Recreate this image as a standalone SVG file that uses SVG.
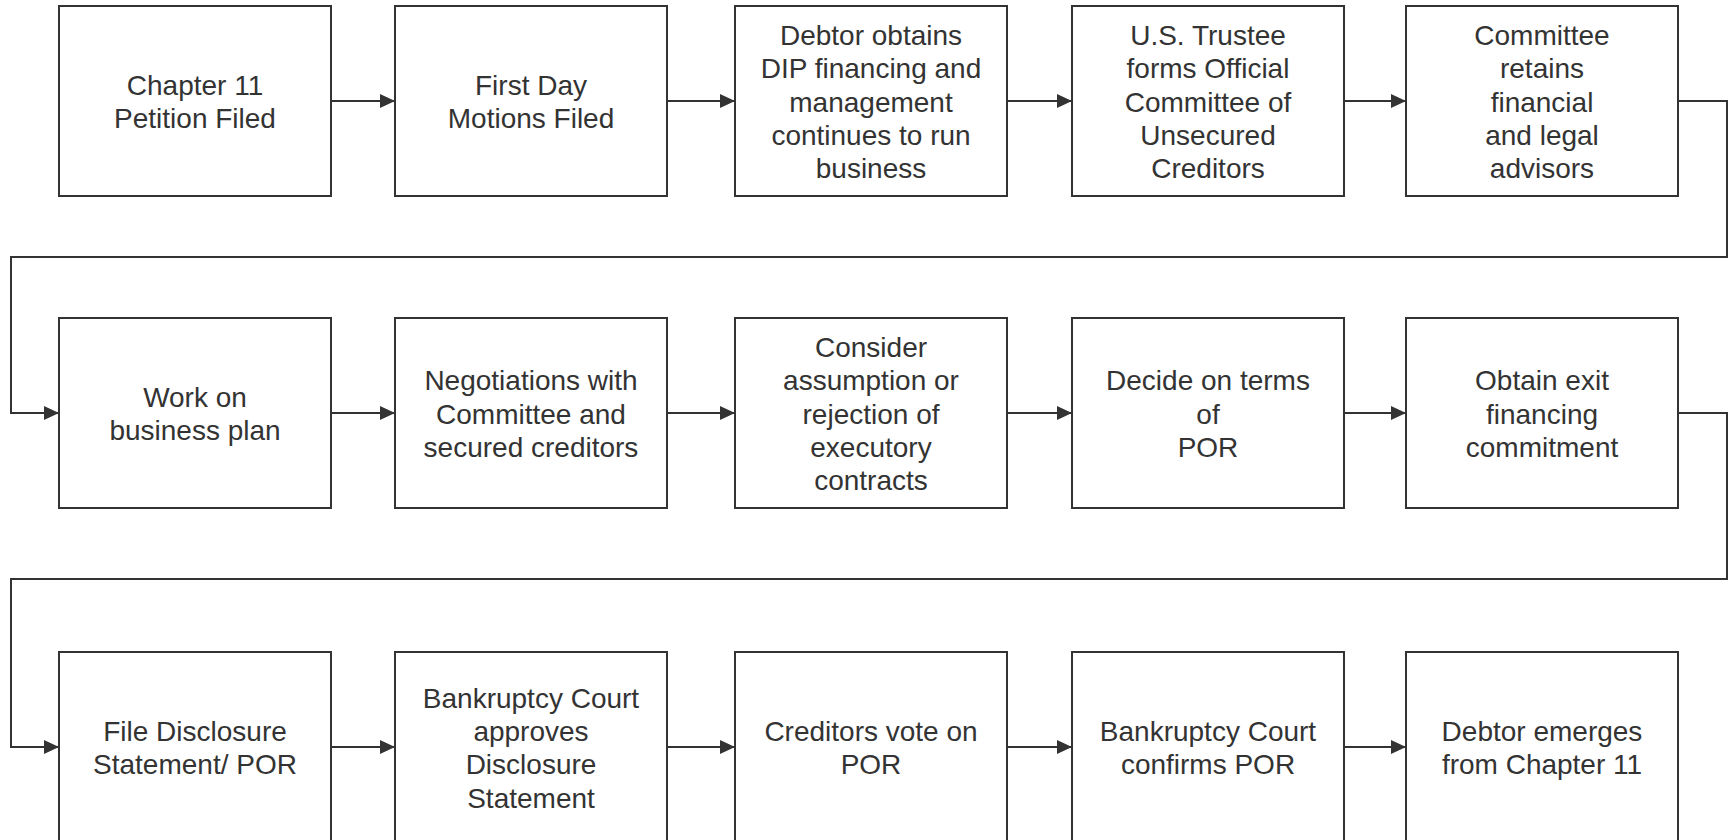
<svg xmlns="http://www.w3.org/2000/svg" width="1729" height="840" viewBox="0 0 1729 840">
<style>
.box{fill:#ffffff;stroke:#333333;stroke-width:2}
.lbl{font-family:"Liberation Sans",Arial,sans-serif;font-size:28px;fill:#333333;text-anchor:middle}
.con{fill:none;stroke:#333333;stroke-width:2}
</style>
<defs>
<marker id="arr" markerUnits="userSpaceOnUse" markerWidth="16" markerHeight="14" refX="15" refY="7" orient="auto">
<path d="M0,0 L15,7 L0,14 z" fill="#333333"/>
</marker>
</defs>
<rect x="0" y="0" width="1729" height="840" fill="#ffffff"/>
<g id="connectors">
<path class="con" d="M331,101 H395" marker-end="url(#arr)"/>
<path class="con" d="M667,101 H735" marker-end="url(#arr)"/>
<path class="con" d="M1007,101 H1072" marker-end="url(#arr)"/>
<path class="con" d="M1344,101 H1406" marker-end="url(#arr)"/>
<path class="con" d="M1679,101 H1727 V257 H11 V413 H59" marker-end="url(#arr)"/>
<path class="con" d="M331,413 H395" marker-end="url(#arr)"/>
<path class="con" d="M667,413 H735" marker-end="url(#arr)"/>
<path class="con" d="M1007,413 H1072" marker-end="url(#arr)"/>
<path class="con" d="M1344,413 H1406" marker-end="url(#arr)"/>
<path class="con" d="M1679,413 H1727 V579 H11 V747 H59" marker-end="url(#arr)"/>
<path class="con" d="M331,747 H395" marker-end="url(#arr)"/>
<path class="con" d="M667,747 H735" marker-end="url(#arr)"/>
<path class="con" d="M1007,747 H1072" marker-end="url(#arr)"/>
<path class="con" d="M1344,747 H1406" marker-end="url(#arr)"/>
</g>
<g id="n1"><rect class="box" x="59" y="6" width="272" height="190"/>
<text class="lbl"><tspan x="195" y="94.9">Chapter 11</tspan><tspan x="195" y="128.2">Petition Filed</tspan></text></g>
<g id="n2"><rect class="box" x="395" y="6" width="272" height="190"/>
<text class="lbl"><tspan x="531" y="94.9">First Day</tspan><tspan x="531" y="128.2">Motions Filed</tspan></text></g>
<g id="n3"><rect class="box" x="735" y="6" width="272" height="190"/>
<text class="lbl"><tspan x="871" y="44.9">Debtor obtains</tspan><tspan x="871" y="78.2">DIP financing and</tspan><tspan x="871" y="111.5">management</tspan><tspan x="871" y="144.8">continues to run</tspan><tspan x="871" y="178.1">business</tspan></text></g>
<g id="n4"><rect class="box" x="1072" y="6" width="272" height="190"/>
<text class="lbl"><tspan x="1208" y="44.9">U.S. Trustee</tspan><tspan x="1208" y="78.2">forms Official</tspan><tspan x="1208" y="111.5">Committee of</tspan><tspan x="1208" y="144.8">Unsecured</tspan><tspan x="1208" y="178.1">Creditors</tspan></text></g>
<g id="n5"><rect class="box" x="1406" y="6" width="272" height="190"/>
<text class="lbl"><tspan x="1542" y="44.9">Committee</tspan><tspan x="1542" y="78.2">retains</tspan><tspan x="1542" y="111.5">financial</tspan><tspan x="1542" y="144.8">and legal</tspan><tspan x="1542" y="178.1">advisors</tspan></text></g>
<g id="n6"><rect class="box" x="59" y="318" width="272" height="190"/>
<text class="lbl"><tspan x="195" y="406.9">Work on</tspan><tspan x="195" y="440.2">business plan</tspan></text></g>
<g id="n7"><rect class="box" x="395" y="318" width="272" height="190"/>
<text class="lbl"><tspan x="531" y="390.2">Negotiations with</tspan><tspan x="531" y="423.5">Committee and</tspan><tspan x="531" y="456.8">secured creditors</tspan></text></g>
<g id="n8"><rect class="box" x="735" y="318" width="272" height="190"/>
<text class="lbl"><tspan x="871" y="356.9">Consider</tspan><tspan x="871" y="390.2">assumption or</tspan><tspan x="871" y="423.5">rejection of</tspan><tspan x="871" y="456.8">executory</tspan><tspan x="871" y="490.1">contracts</tspan></text></g>
<g id="n9"><rect class="box" x="1072" y="318" width="272" height="190"/>
<text class="lbl"><tspan x="1208" y="390.2">Decide on terms</tspan><tspan x="1208" y="423.5">of</tspan><tspan x="1208" y="456.8">POR</tspan></text></g>
<g id="n10"><rect class="box" x="1406" y="318" width="272" height="190"/>
<text class="lbl"><tspan x="1542" y="390.2">Obtain exit</tspan><tspan x="1542" y="423.5">financing</tspan><tspan x="1542" y="456.8">commitment</tspan></text></g>
<g id="n11"><rect class="box" x="59" y="652" width="272" height="190"/>
<text class="lbl"><tspan x="195" y="740.9">File Disclosure</tspan><tspan x="195" y="774.2">Statement/ POR</tspan></text></g>
<g id="n12"><rect class="box" x="395" y="652" width="272" height="190"/>
<text class="lbl"><tspan x="531" y="707.6">Bankruptcy Court</tspan><tspan x="531" y="740.9">approves</tspan><tspan x="531" y="774.2">Disclosure</tspan><tspan x="531" y="807.5">Statement</tspan></text></g>
<g id="n13"><rect class="box" x="735" y="652" width="272" height="190"/>
<text class="lbl"><tspan x="871" y="740.9">Creditors vote on</tspan><tspan x="871" y="774.2">POR</tspan></text></g>
<g id="n14"><rect class="box" x="1072" y="652" width="272" height="190"/>
<text class="lbl"><tspan x="1208" y="740.9">Bankruptcy Court</tspan><tspan x="1208" y="774.2">confirms POR</tspan></text></g>
<g id="n15"><rect class="box" x="1406" y="652" width="272" height="190"/>
<text class="lbl"><tspan x="1542" y="740.9">Debtor emerges</tspan><tspan x="1542" y="774.2">from Chapter 11</tspan></text></g>
</svg>
